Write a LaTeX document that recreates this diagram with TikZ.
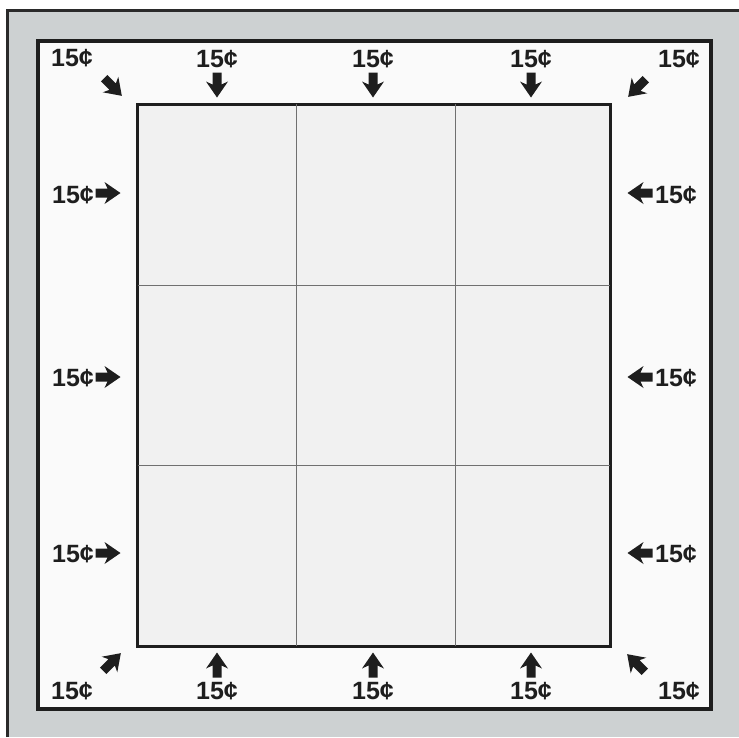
\documentclass[tikz,border=0pt]{standalone}
\usepackage{fontspec}
\setmainfont{Liberation Sans}
\definecolor{bggray}{HTML}{CDD1D2}
\definecolor{cardline}{HTML}{2A2A2A}
\definecolor{outerwhite}{HTML}{FAFAFA}
\definecolor{innerfill}{HTML}{F1F1F1}
\definecolor{gridgray}{HTML}{707070}
\definecolor{ink}{HTML}{1E1E1E}
\begin{document}
\begin{tikzpicture}[x=1pt,y=-1pt,
  lbl/.style={font=\fontsize{25}{29}\selectfont\bfseries, text=ink, inner sep=0pt},
  barrow/.pic={\fill[ink] (-12.5,-4.5) -- (-0.5,-4.5) -- (-3.5,-11) -- (12.5,0) -- (-3.5,11) -- (-0.5,4.5) -- (-12.5,4.5) -- cycle;},
  frame/.style={draw=ink, line join=miter}
]
\useasboundingbox (0,0) rectangle (739,737);
\fill[white] (0,0) rectangle (739,737);
\fill[bggray] (7,10) rectangle (739,737);
\draw[cardline, line width=3pt] (7,737) -- (7,10) -- (739,10);
% outer frame
\filldraw[frame, fill=outerwhite, line width=4pt] (38,41) rectangle (711,709);
% inner grid
\filldraw[frame, fill=innerfill, line width=3pt] (137.5,104) rectangle (610,646);
\draw[gridgray, line width=0.9pt] (296,104) -- (296,646) (455,104) -- (455,646)
  (137.5,285) -- (610,285) (137.5,465) -- (610,465);
% top labels
\node[lbl] (tl) at (72,58) {15¢};
\node[lbl] (t1) at (217,59) {15¢};
\node[lbl] (t2) at (373,59) {15¢};
\node[lbl] (t3) at (531,59) {15¢};
\node[lbl] (tr) at (679,59) {15¢};
\pic[rotate=-90] at (217,85) {barrow};
\pic[rotate=-90] at (373,85) {barrow};
\pic[rotate=-90] at (531,85) {barrow};
\pic[rotate=-45] at (113,87) {barrow};
\pic[rotate=-135] at (637,88) {barrow};
% bottom labels
\node[lbl] (bl) at (72,691) {15¢};
\node[lbl] (b1) at (217,691) {15¢};
\node[lbl] (b2) at (373,691) {15¢};
\node[lbl] (b3) at (531,691) {15¢};
\node[lbl] (br) at (679,691) {15¢};
\pic[rotate=90] at (217,665) {barrow};
\pic[rotate=90] at (373,665) {barrow};
\pic[rotate=90] at (531,665) {barrow};
\pic[rotate=45] at (112,662) {barrow};
\pic[rotate=135] at (636,663) {barrow};
% left labels
\node[lbl] (l1) at (73,195) {15¢};
\node[lbl] (l2) at (73,378) {15¢};
\node[lbl] (l3) at (73,554) {15¢};
\pic at (108,193) {barrow};
\pic at (108,377) {barrow};
\pic at (108,553) {barrow};
% right labels
\node[lbl] (r1) at (676,195) {15¢};
\node[lbl] (r2) at (676,378) {15¢};
\node[lbl] (r3) at (676,554) {15¢};
\pic[rotate=180] at (640,193) {barrow};
\pic[rotate=180] at (640,377) {barrow};
\pic[rotate=180] at (640,553) {barrow};
\end{tikzpicture}
\end{document}
